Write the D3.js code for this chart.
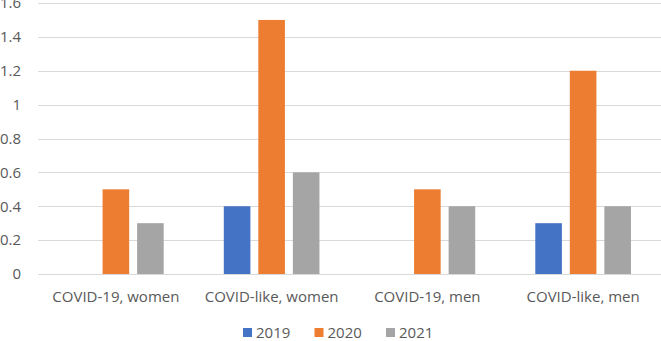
<!DOCTYPE html>
<html lang="en">
<head>
    <meta charset="UTF-8">
    <title>COVID chart</title>
    <script src="https://d3js.org/d3.v7.min.js"></script>
    <style>
        body {
            margin: 0;
            background: #fff;
        }
        svg text {
            font-family: "Open Sans", sans-serif;
            fill: #595959;
            font-size: 15px;
        }
        .grid line {
            stroke: #d9d9d9;
            stroke-width: 1px;
        }
    </style>
</head>
<body>
    <svg width="661" height="341"></svg>

    <script>
        var categories = ["COVID-19, women", "COVID-like, women", "COVID-19, men", "COVID-like, men"];
        var years = ["2019", "2020", "2021"];
        var colors = ["#4472C4", "#ED7D31", "#A5A5A5"];
        var values2019 = [0, 0.4, 0, 0.3];
        var values2020 = [0.5, 1.5, 0.5, 1.2];
        var values2021 = [0.3, 0.6, 0.4, 0.4];
        var yTicks = [0, 0.2, 0.4, 0.6, 0.8, 1, 1.2, 1.4, 1.6];

        var series = [values2019, values2020, values2021];

        var margin = { top: 3, right: 0, bottom: 67, left: 38 };
        var width = 661, height = 341;

        var svg = d3.select("svg");

        var x = d3.scaleBand()
            .domain(categories)
            .range([margin.left, width - margin.right])
            .paddingInner(0)
            .paddingOuter(0);

        var x1 = d3.scaleBand()
            .domain(years)
            .range([0, x.bandwidth()])
            .paddingInner(0.23)
            .paddingOuter(0.87);

        var y = d3.scaleLinear()
            .domain([0, 1.6])
            .range([height - margin.bottom, margin.top]);

        // gridlines
        svg.append("g")
            .attr("class", "grid")
            .selectAll("line")
            .data(yTicks)
            .enter().append("line")
            .attr("x1", margin.left)
            .attr("x2", width - margin.right)
            .attr("y1", function(d) { return Math.round(y(d)) + 0.5; })
            .attr("y2", function(d) { return Math.round(y(d)) + 0.5; });

        // y axis labels
        var yAxis = d3.axisLeft(y)
            .tickValues(yTicks)
            .tickSize(0)
            .tickPadding(17)
            .tickFormat(function(d) { return String(d); });

        svg.append("g")
            .attr("transform", "translate(" + margin.left + ",0)")
            .call(yAxis)
            .call(function(g) { g.select(".domain").remove(); });

        // bars
        var groups = svg.append("g")
            .selectAll("g")
            .data(categories)
            .enter().append("g")
            .attr("transform", function(d) { return "translate(" + x(d) + ",0)"; });

        groups.selectAll("rect")
            .data(function(d, i) {
                return years.map(function(yr, j) { return { year: yr, value: series[j][i], color: colors[j] }; });
            })
            .enter().append("rect")
            .attr("x", function(d) { return x1(d.year); })
            .attr("width", x1.bandwidth())
            .attr("y", function(d) { return y(d.value); })
            .attr("height", function(d) { return y(0) - y(d.value); })
            .attr("fill", function(d) { return d.color; });

        // x axis labels
        var xAxis = d3.axisBottom(x)
            .tickSize(0)
            .tickPadding(17);

        svg.append("g")
            .attr("transform", "translate(0," + y(0) + ")")
            .call(xAxis)
            .call(function(g) { g.select(".domain").remove(); });

        // legend
        var legend = svg.append("g")
            .attr("transform", "translate(243,328)");

        var item = legend.selectAll("g")
            .data(years)
            .enter().append("g")
            .attr("transform", function(d, i) { return "translate(" + (i * 71.5) + ",0)"; });

        item.append("rect")
            .attr("width", 9)
            .attr("height", 9)
            .attr("fill", function(d, i) { return colors[i]; });

        item.append("text")
            .attr("x", 13)
            .attr("y", 4.5)
            .attr("dy", "0.35em")
            .text(function(d) { return d; });
    </script>
</body>
</html>
